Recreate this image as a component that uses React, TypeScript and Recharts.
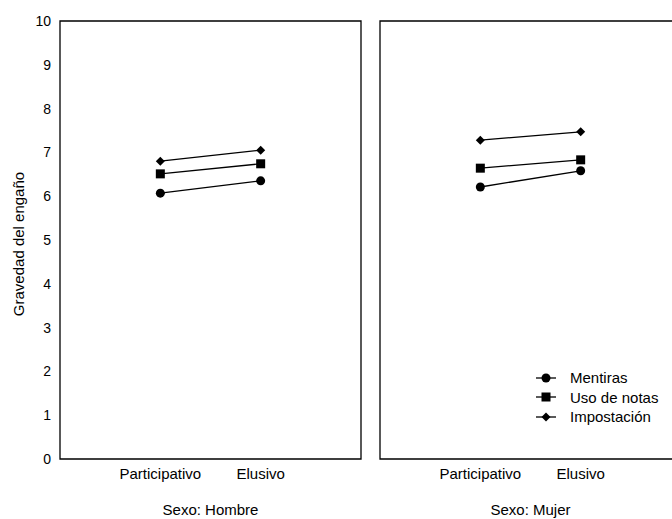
import React from 'react';
import {
  LineChart,
  Line,
  XAxis,
  YAxis,
  ReferenceArea
} from 'recharts';

// Tipo de estilo (eje X)
const categories = ['Participativo', 'Elusivo'];

// Sexo: Hombre
const hombreMentiras = [6.07, 6.35];
const hombreUsoNotas = [6.51, 6.74];
const hombreImpostacion = [6.8, 7.05];

// Sexo: Mujer
const mujerMentiras = [6.21, 6.58];
const mujerUsoNotas = [6.64, 6.83];
const mujerImpostacion = [7.28, 7.47];

const yTicks = [0, 1, 2, 3, 4, 5, 6, 7, 8, 9, 10];
const seriesNames = ['Mentiras', 'Uso de notas', 'Impostación'];

const FONT = '"Liberation Sans", Arial, sans-serif';

const buildData = (m: number[], u: number[], imp: number[]) =>
  categories.map((name, i) => ({ x: i + 1, name, mentiras: m[i], uso: u[i], imp: imp[i] }));

const CircleDot = (props: any) => {
  const { cx, cy } = props;
  if (cx == null || cy == null) return null;
  return <circle cx={cx} cy={cy} r={4.5} fill="#000" />;
};

const SquareDot = (props: any) => {
  const { cx, cy } = props;
  if (cx == null || cy == null) return null;
  return <rect x={cx - 4.5} y={cy - 4.5} width={9} height={9} fill="#000" />;
};

const DiamondDot = (props: any) => {
  const { cx, cy } = props;
  if (cx == null || cy == null) return null;
  return <path d={`M${cx},${cy - 4.5}L${cx + 4.5},${cy}L${cx},${cy + 4.5}L${cx - 4.5},${cy}Z`} fill="#000" />;
};

const markers = [CircleDot, SquareDot, DiamondDot];

// rotated y-axis title
const YTitle = (props: any) => {
  const { viewBox } = props;
  if (!viewBox) return null;
  const x = viewBox.x + 18;
  const y = viewBox.y + viewBox.height / 2 + 4;
  return (
    <text
      x={x}
      y={y}
      transform={`rotate(-90, ${x}, ${y})`}
      textAnchor="middle"
      dominantBaseline="central"
      fill="#000"
      fontSize={15}
      fontFamily={FONT}
    >
      Gravedad del engaño
    </text>
  );
};

const LegendBox = () => (
  <div style={{ position: 'absolute', left: 536, top: 368, fontFamily: FONT, fontSize: 15, color: '#000' }}>
    {seriesNames.map((n, i) => {
      const Marker = markers[i];
      return (
        <div key={n} style={{ display: 'flex', alignItems: 'center', height: 19.5 }}>
          <svg width={34} height={12}>
            <line x1={0} y1={6} x2={20} y2={6} stroke="#000" strokeWidth={1.3} />
            <Marker cx={10} cy={6} />
          </svg>
          <span>{n}</span>
        </div>
      );
    })}
  </div>
);

interface PanelProps {
  data: any[];
  title: string;
  showY: boolean;
  width: number;
  marginLeft: number;
}

const Panel: React.FC<PanelProps> = ({ data, title, showY, width, marginLeft }) => (
  <LineChart
    width={width}
    height={519}
    data={data}
    margin={{ top: 21, right: 9, bottom: 0, left: marginLeft }}
  >
    <XAxis
      dataKey="x"
      type="number"
      domain={[0, 3]}
      ticks={[1, 2]}
      tickFormatter={(v: number) => categories[v - 1]}
      axisLine={false}
      tickLine={false}
      tickSize={0}
      tickMargin={9}
      height={60}
      tick={{ fill: '#000', fontSize: 15, fontFamily: FONT }}
      label={{ value: title, position: 'insideBottom', offset: 4, style: { fill: '#000', fontSize: 15, fontFamily: FONT } }}
    />
    <YAxis
      type="number"
      domain={[0, 10]}
      ticks={yTicks}
      hide={!showY}
      width={60}
      axisLine={false}
      tickLine={false}
      tickSize={0}
      tickMargin={9}
      tick={{ fill: '#000', fontSize: 14, fontFamily: FONT }}
      label={<YTitle />}
    />
    <ReferenceArea x1={0} x2={3} y1={0} y2={10} fill="none" stroke="#000" strokeWidth={1.3} ifOverflow="visible" />
    <Line dataKey="mentiras" stroke="#000" strokeWidth={1.3} dot={<CircleDot />} isAnimationActive={false} />
    <Line dataKey="uso" stroke="#000" strokeWidth={1.3} dot={<SquareDot />} isAnimationActive={false} />
    <Line dataKey="imp" stroke="#000" strokeWidth={1.3} dot={<DiamondDot />} isAnimationActive={false} />
  </LineChart>
);

export default function App() {
  const hombre = buildData(hombreMentiras, hombreUsoNotas, hombreImpostacion);
  const mujer = buildData(mujerMentiras, mujerUsoNotas, mujerImpostacion);
  return (
    <div style={{ position: 'absolute', left: 0, top: 0, width: 672, height: 519, overflow: 'hidden', background: '#fff' }}>
      <div style={{ position: 'absolute', left: 0, top: 0 }}>
        <Panel data={hombre} title="Sexo: Hombre" showY width={370} marginLeft={0} />
      </div>
      <div style={{ position: 'absolute', left: 370, top: 0 }}>
        <Panel data={mujer} title="Sexo: Mujer" showY={false} width={320} marginLeft={10} />
      </div>
      <LegendBox />
    </div>
  );
}
